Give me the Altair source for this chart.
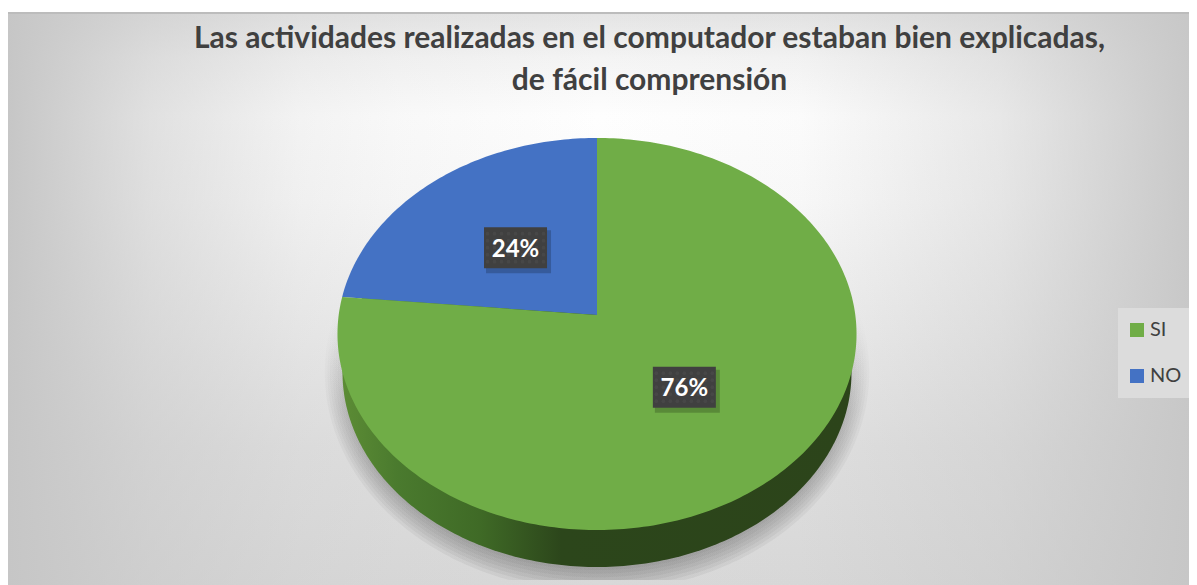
import math
import altair as alt
import pandas as pd

categories = ["SI", "NO"]
shares = [76.5, 23.5]
share_labels = ["76%", "24%"]
colors = ["#70AD47", "#4472C4"]
title_lines = ["Las actividades realizadas en el computador estaban bien explicadas,",
               "de fácil comprensión"]

W, H = 1181, 577
X0, Y0 = 8, 8
xs = alt.Scale(domain=[X0, X0 + W], range=[0, W])
ys = alt.Scale(domain=[Y0, Y0 + H], range=[0, H])
X = lambda f: alt.X(f, type="quantitative", scale=xs, axis=None)
Y = lambda f: alt.Y(f, type="quantitative", scale=ys, axis=None)

# Tilted-disc projection: apex of the pie, projected radii, perspective factor
AX, AY, A, B, C = 597, 315, 258.3, 194.2, 0.0969


def project(deg, r=1.0):
    a = math.radians(deg)
    u, v = -math.sin(a) * r, math.cos(a) * r
    d = 1 + C * v
    return AX + A * u / d, AY - B * v / d


no_sweep = shares[1] / sum(shares) * 360
sweeps = {"NO": (0, no_sweep), "SI": (no_sweep, 360)}

rows = []
for cat, (a0, a1) in sweeps.items():
    n = int(a1 - a0) + 1
    pts = [(AX, AY)] + [project(a0 + (a1 - a0) * i / n) for i in range(n + 1)] + [(AX, AY)]
    for i, (x, y) in enumerate(pts):
        rows.append({"cat": cat, "x": x, "y": y, "o": i})
slices = pd.DataFrame(rows)

labels = pd.DataFrame([
    {"cat": c, "label": l,
     "x": project(sum(sweeps[c]) / 2, 0.485)[0],
     "y": project(sum(sweeps[c]) / 2, 0.485)[1]}
    for c, l in zip(categories, share_labels)
])

dots = pd.DataFrame([
    {"x": lx + i * 7, "y": ly + j * 7}
    for lx, ly in zip(labels["x"], labels["y"])
    for i in range(-4, 5) for j in range(-2, 3)
])


def ellipse(cx, cy, rx, ry, ymax=None):
    out = []
    for i in range(361):
        t = math.radians(i)
        y = cy + ry * math.sin(t)
        out.append({"x": cx + rx * math.cos(t), "y": min(y, ymax) if ymax else y, "o": i})
    return pd.DataFrame(out)


def gradient(stops, **kw):
    return dict(gradient="linear", stops=[dict(offset=o, color=c) for o, c in stops], **kw)


frame = pd.DataFrame({"x": [X0], "x2": [X0 + W], "y": [13], "y2": [Y0 + H]})
bg_v = alt.Chart(frame).mark_rect(
    color=gradient([(0, "#e4e4e4"), (0.08, "#f4f4f4"), (0.18, "#fefefe"), (0.33, "#fafafa"),
                    (0.5, "#f0f0f0"), (0.76, "#e0e0e0"), (1, "#d8d8d8")], x1=0, y1=0, x2=0, y2=1)
).encode(x=X("x"), x2="x2", y=Y("y"), y2="y2")
bg_h = alt.Chart(frame).mark_rect(
    color=gradient([(0, "rgba(198,198,198,1)"), (0.12, "rgba(198,198,198,0.53)"),
                    (0.247, "rgba(198,198,198,0.2)"), (0.33, "rgba(198,198,198,0.1)"),
                    (0.5, "rgba(198,198,198,0)"), (0.67, "rgba(198,198,198,0.05)"),
                    (0.84, "rgba(198,198,198,0.4)"), (1, "rgba(198,198,198,0.95)")],
                   x1=0, y1=0, x2=1, y2=0)
).encode(x=X("x"), x2="x2", y=Y("y"), y2="y2")

topline = alt.Chart(pd.DataFrame({"y": [13]})).mark_rule(color="#bcbcbc", strokeWidth=2).encode(y=Y("y"))


def filled(df, fill):
    return alt.Chart(df).mark_line(filled=True, fill=fill, stroke=None, strokeWidth=0).encode(
        x=X("x"), y=Y("y"), order="o:Q")


shadow_stops = [(0, "rgba(90,90,90,0)"), (0.36, "rgba(90,90,90,0)"),
                (0.6, "rgba(90,90,90,0.05)"), (1, "rgba(90,90,90,0.085)")]
shadow = [
    filled(ellipse(597, 372.5, 254 + k * 2.6, 194 + k * 3.6, 580),
           gradient(shadow_stops, x1=0, y1=0, x2=0, y2=1))
    for k in range(8)
]

wall = filled(ellipse(597, 372.5, 254.5, 194.5),
              gradient([(0, "#5c8c35"), (0.11, "#4a7a2e"), (0.27, "#3f6a26"),
                        (0.43, "#2c461b"), (1, "#2c441a")], x1=0, y1=0, x2=1, y2=0))

pie = alt.Chart(slices).mark_line(filled=True, strokeWidth=0).encode(
    x=X("x"), y=Y("y"), order="o:Q",
    color=alt.Color("cat:N", scale=alt.Scale(domain=categories, range=colors),
                    legend=alt.Legend(orient="none", legendX=1110, legendY=303, title=None,
                                      padding=9, symbolType="square",
                                      symbolSize=196, symbolStrokeWidth=0, rowPadding=26,
                                      labelFont="Lato", labelFontSize=20, labelColor="#404040",
                                      labelOffset=3, labelLimit=60)),
)

legend_box = alt.Chart(pd.DataFrame({"x": [1118], "x2": [1192], "y": [308], "y2": [398]})).mark_rect(
    color="#dcdcdc").encode(x=X("x"), x2="x2", y=Y("y"), y2="y2")

box_shadow = alt.Chart(labels).mark_rect(width=65, height=43, xOffset=3, yOffset=4,
                                         color="#000000", opacity=0.2).encode(x=X("x"), y=Y("y"))
box = alt.Chart(labels).mark_rect(width=63, height=41, color="#404040").encode(x=X("x"), y=Y("y"))
texture = alt.Chart(dots).mark_circle(size=14, color="#5a5a5a", opacity=0.3).encode(x=X("x"), y=Y("y"))
text = alt.Chart(labels).mark_text(font="Lato", fontWeight="bold", fontSize=24, color="#ffffff",
                                   baseline="middle", dy=2).encode(x=X("x"), y=Y("y"), text="label:N")

chart = alt.layer(bg_v, bg_h, topline, legend_box, *shadow, wall, pie, box_shadow, box, texture, text).properties(
    width=W, height=H, padding=0, autosize=alt.AutoSizeParams(type="none"),
    background="#ffffff",
    title=alt.TitleParams(title_lines, anchor="middle", font="Lato", fontWeight="bold", fontSize=30,
                          color="#404040", lineHeight=42, dx=51, dy=88, offset=0),
).configure_view(stroke=None).resolve_scale(x="shared", y="shared")

chart.save("out.html", embed_options={"renderer": "svg", "actions": False})
